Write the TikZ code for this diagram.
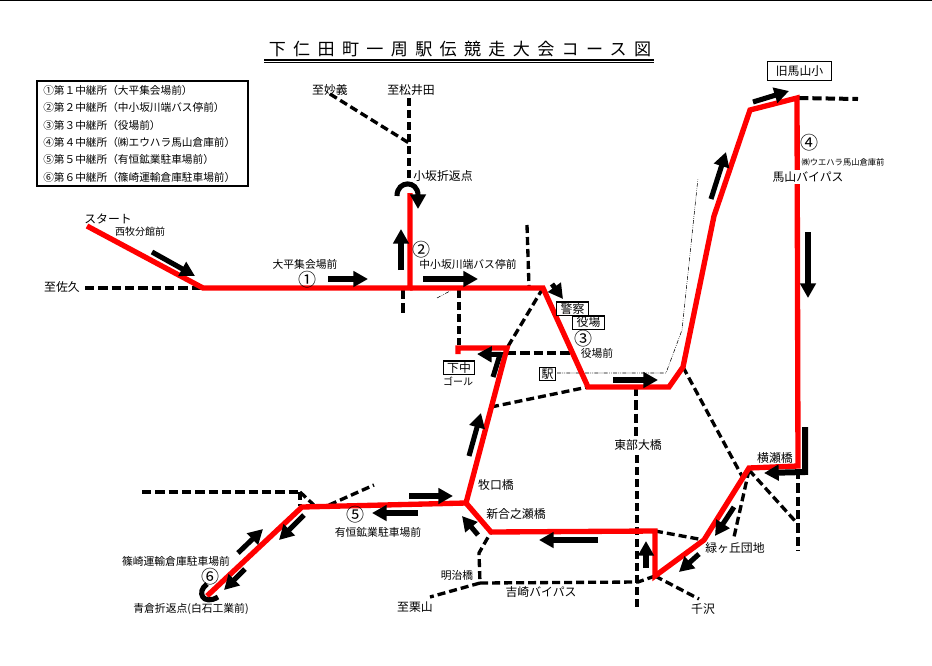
\documentclass[tikz,border=0pt]{standalone}
\usepackage{fontspec}
\setmainfont{Noto Sans CJK JP}
\newfontfamily\titlefont[LetterSpace=43]{Noto Sans CJK JP}
\usetikzlibrary{arrows.meta,positioning,calc}
\definecolor{routered}{RGB}{255,0,0}
\tikzset{
    route/.style={line width=4pt,draw=routered,line join=miter},
    sideroad/.style={line width=2.5pt,dash pattern=on 6pt off 3pt},
    mainroad/.style={line width=3pt,dash pattern=on 7pt off 3pt},
    thinroad/.style={line width=0.4pt,dash pattern=on 3pt off 1pt on 0.5pt off 1pt on 0.5pt off 1pt},
    runarrow/.style={line width=3.8pt,-{Triangle[length=11pt,width=11.5pt]}},
    place/.style={font=\fontsize{8.9}{10}\selectfont,inner sep=0pt},
    placew/.style={place,fill=white,inner xsep=1pt,inner ysep=1.5pt},
    stop/.style={font=\fontsize{8.1}{9}\selectfont,inner sep=0pt},
    small/.style={font=\fontsize{7.5}{8}\selectfont,inner sep=0pt},
    relay/.style={font=\fontsize{13.5}{14}\selectfont,inner sep=0pt},
    legendtext/.style={font=\fontsize{8}{9}\selectfont,inner sep=0pt,anchor=west},
    signbox/.style={place,draw,line width=1pt,fill=white,minimum height=10pt,inner xsep=0pt}
}
\begin{document}
\begin{tikzpicture}[x=0.75pt,y=-0.75pt]
    \useasboundingbox (0,0) rectangle (932,665);
    \draw[line width=0.8pt] (0,0.3) -- (932,0.3);

    % Title
    \node[font=\fontsize{12.8}{14}\selectfont\titlefont,inner sep=0pt] (title) at (460,49) {下仁田町一周駅伝競走大会コース図};
    \draw[line width=0.8pt] (264,60) -- (654,60);
    \draw[line width=0.5pt] (264,62.5) -- (654,62.5);

    % Legend
    \node[draw,line width=1.4pt,minimum width=158pt,minimum height=79pt,inner sep=0pt] (legend) at (142.5,133.5) {};
    \node[legendtext] (leg1) at (43,90) {①第１中継所（大平集会場前）};
    \node[legendtext] (leg2) at (43,107) {②第２中継所（中小坂川端バス停前）};
    \node[legendtext] (leg3) at (43,125) {③第３中継所（役場前）};
    \node[legendtext] (leg4) at (43,142) {④第４中継所（㈱エウハラ馬山倉庫前）};
    \node[legendtext] (leg5) at (43,159) {⑤第５中継所（有恒鉱業駐車場前）};
    \node[legendtext] (leg6) at (43,177) {⑥第６中継所（篠崎運輸倉庫駐車場前）};

    % Points on the course
    \coordinate (start) at (87,226);
    \coordinate (saku) at (203,288);
    \coordinate (kosaka) at (410,288);
    \coordinate (kosakatop) at (410,193);
    \coordinate (yakuba) at (543,288);
    \coordinate (eki) at (588,387);
    \coordinate (eastb) at (669,387);
    \coordinate (bend) at (683,367);
    \coordinate (rise) at (714,216);
    \coordinate (kyu) at (750,110);
    \coordinate (top) at (797,98);
    \coordinate (yokose) at (798,466);
    \coordinate (yokosel) at (749,468);
    \coordinate (midori) at (704,540);
    \coordinate (senzawa) at (655,576);
    \coordinate (senzawat) at (655,531);
    \coordinate (shingo) at (491,532);
    \coordinate (makiguchi) at (466,503);
    \coordinate (goalc) at (507,348);
    \coordinate (goal) at (458,348);
    \coordinate (arikune) at (302,507);
    \coordinate (aokura) at (207,596);
    \coordinate (yoshi) at (480,583);
    \coordinate (westj) at (300,492);

    % Thin roads
    \draw[thinroad] (557,373) -- (666,373) -- (682,330) -- (698,178);
    \draw[thinroad] (437,298) -- (450,291);

    % Side roads
    \draw[mainroad] (85,288) -- (saku);
    \draw[mainroad] (403,290) -- (403,315);
    \draw[sideroad] (330,94) -- (409,143);
    \draw[sideroad] (409,98) -- (409,183);
    \draw[sideroad] (459,290) -- (459,345);
    \draw[sideroad] (527,225) -- (529,287);
    \draw[sideroad] (yakuba) -- (goalc);
    \draw[mainroad] (goalc) ++(0,5) -- (572,353);
    \draw[sideroad] (491,407) -- (eki);
    \draw[mainroad] (636,387) -- (636,440);
    \draw[sideroad] (637,455) -- (637,607);
    \draw[sideroad] (bend) -- (743,478);
    \draw[sideroad] (749,470) -- (796,522);
    \draw[mainroad] (798,470) -- (798,551);
    \draw[sideroad] (749,470) -- (734,537);
    \draw[sideroad] (senzawat) -- (midori);
    \draw[sideroad] (senzawa) -- (699,599);
    \draw[sideroad] (senzawa) -- (638,582) -- (yoshi) -- (479,553) -- (shingo);
    \draw[sideroad] (yoshi) -- (430,597);
    \draw[mainroad] (142,492) -- (westj);
    \draw[sideroad] (westj) -- (316,507);
    \draw[sideroad] (westj) -- (300,506);
    \draw[sideroad] (329,505) -- (374,485);
    \draw[mainroad] (top) ++(2,0) -- (858,99);

    % Course
    \draw[route] (start) -- (saku) -- (kosaka) -- (kosakatop);
    \draw[route] (kosaka) -- (yakuba) -- (eki) -- (eastb) -- (bend) -- (rise) -- (kyu) -- (top)
        -- (yokose) -- (yokosel) -- (midori) -- (senzawa) -- (senzawat) -- (shingo) -- (makiguchi) -- (goalc) -- (goal) -- ++(0,6);
    \draw[route] (makiguchi) -- (arikune) -- (aokura);

    % Turning points
    \draw[runarrow] (397,196) .. controls (397,180) and (418,180) .. (418,209);
    \draw[line width=3.8pt] (207,584) .. controls (196,592) and (203,606) .. (218,597);

    % Running direction
    \foreach \xa/\ya/\xb/\yb in {152/252/195/276,328/279/368/279,401/270/401/229,423/279/478/279,
        552/284/563/299,613/380/658/380,469/456/481/413,409/496/453/496,478/535/462/516,
        418/513/372/513,304/515/279/540,238/553/263/529,245/569/224/590,598/540/539/540,
        646/568/646/541,699/554/679/572,734/507/715/536,808/232/808/298,711/199/726/152,
        753/102/789/91} {
        \draw[runarrow] (\xa,\ya) -- (\xb,\yb);
    }
    \draw[runarrow] (493,377) -- (500,354.5) -- (477,354);
    \draw[runarrow,line width=4.5pt,line join=miter] (805,427) -- (805,472) -- (764,473);

    % Signs
    \node[signbox,minimum width=24pt] (keisatsu) at (572.5,308.5) {警察};
    \node[signbox,minimum width=24pt] (yakubasign) at (588.5,322.5) {役場};
    \node[signbox,minimum width=23pt] (shimonaka) at (459,367.5) {下中};
    \node[signbox,minimum width=12pt] (ekisign) at (547.5,374) {駅};
    \node[signbox,minimum width=48pt,minimum height=14pt] (kyumayama) at (799.5,71) {旧馬山小};

    % Place names
    \node[place] (myogi) at (330,90) {至妙義};
    \node[place] (matsuida) at (411,90) {至松井田};
    \node[place] (kosakaori) at (443,176) {小坂折返点};
    \node[place] (startlab) at (108,219) {スタート};
    \node[small] (nishimaki) at (140,232) {西牧分館前};
    \node[place] (sakulab) at (62,287) {至佐久};
    \node[stop] (ohira) at (305,264) {大平集会場前};
    \node[relay] (r1) at (307,280) {①};
    \node[relay] (r2) at (421,250) {②};
    \node[stop] (nakakosaka) at (468,264) {中小坂川端バス停前};
    \node[relay] (r3) at (583,339) {③};
    \node[stop] (yakubamae) at (597,353) {役場前};
    \node[small] (goallab) at (458,381) {ゴール};
    \node[relay] (r4) at (809,143) {④};
    \node[small,font=\fontsize{6.2}{8}\selectfont] (uehara) at (843,162) {㈱ウエハラ馬山倉庫前};
    \node[placew] (bypass) at (808,177) {馬山バイパス};
    \node[placew] (tobu) at (638,445) {東部大橋};
    \node[place] (yokoselab) at (775,458) {横瀬橋};
    \node[place] (makilab) at (496,485) {牧口橋};
    \node[place] (shingolab) at (516,514) {新合之瀬橋};
    \node[place] (midorilab) at (735,548) {緑ヶ丘団地};
    \node[place] (yoshilab) at (541,592) {吉崎バイパス};
    \node[place] (senzawalab) at (703,609) {千沢};
    \node[stop] (meiji) at (457,575) {明治橋};
    \node[place] (kuriyama) at (415,607) {至栗山};
    \node[stop] (arilab) at (378,532) {有恒鉱業駐車場前};
    \node[relay] (r5) at (355,515) {⑤};
    \node[stop] (shinozaki) at (176,561) {篠崎運輸倉庫駐車場前};
    \node[relay] (r6) at (210,577) {⑥};
    \node[stop] (aokuralab) at (191,609) {青倉折返点(白石工業前)};
\end{tikzpicture}
\end{document}
